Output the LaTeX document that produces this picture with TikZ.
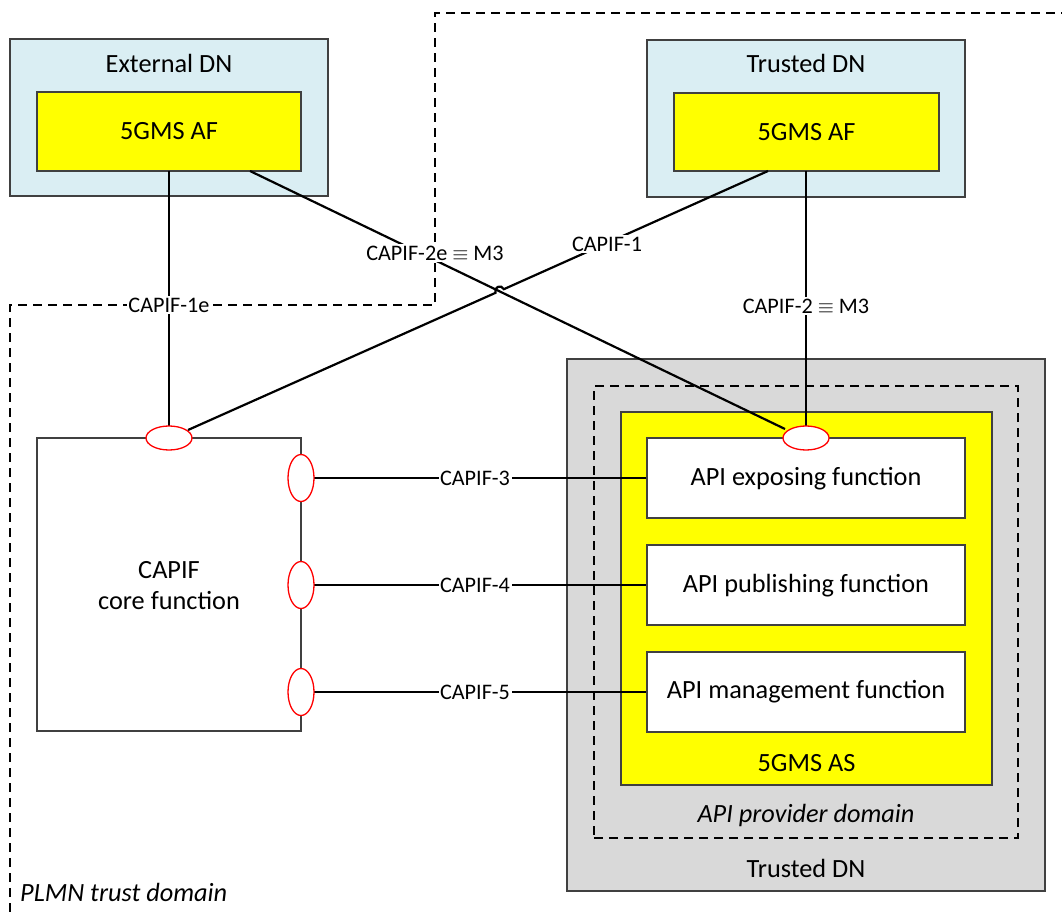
\documentclass[tikz,border=0pt]{standalone}
\usepackage{fontspec}
\setmainfont{Carlito}
\usetikzlibrary{shapes.geometric,calc}
\definecolor{dnblue}{HTML}{DAEEF3}
\definecolor{msyellow}{HTML}{FFFF00}
\definecolor{dngray}{HTML}{D9D9D9}
\definecolor{edge}{HTML}{404040}
\begin{document}
\begin{tikzpicture}[x=1pt,y=-1pt,
  box/.style={draw=edge,line width=1.2pt,rectangle,inner sep=0pt},
  maintxt/.style={font=\fontsize{26.3}{31}\selectfont,inner sep=0pt},
  lbl/.style={font=\fontsize{22.2}{26}\selectfont,fill=white,inner sep=1.5pt},
  conn/.style={line width=2.2pt,black},
  hport/.style={ellipse,draw=red,line width=1.3pt,fill=white,minimum width=46pt,minimum height=24pt,inner sep=0pt},
  vport/.style={ellipse,draw=red,line width=1.3pt,fill=white,minimum width=26pt,minimum height=47pt,inner sep=0pt},
  trustline/.style={line width=1.2pt,dash pattern=on 9pt off 6pt}]
\useasboundingbox (0,0) rectangle (1063,912);
% PLMN trust domain boundary
\coordinate (pa) at (10,912);
\coordinate (pb) at (10,305);
\coordinate (pc) at (435,305);
\coordinate (pd) at (435,13);
\coordinate (pe) at (1062,13);
\draw[trustline] (pa) -- (pb) -- (pc) -- (pd) -- (pe);
\node[maintxt,anchor=west,font=\fontsize{26.3}{31}\selectfont\itshape] (plmn) at (20,892) {PLMN trust domain};
% External DN
\node[box,fill=dnblue,minimum width=318pt,minimum height=157pt] (extdn) at (169,117.5) {};
\node[maintxt] (extdnlbl) at (169,63) {External DN};
\node[box,fill=msyellow,minimum width=264pt,minimum height=79pt] (extaf) at (169,131.5) {};
\node[maintxt] (extaflbl) at (169,131.5) {5GMS AF};
% Trusted DN top
\node[box,fill=dnblue,minimum width=318pt,minimum height=157pt] (tdn) at (806,118.5) {};
\node[maintxt] (tdnlbl) at (806,63) {Trusted DN};
\node[box,fill=msyellow,minimum width=265pt,minimum height=78pt] (taf) at (806.5,132) {};
\node[maintxt] (taflbl) at (806.5,132) {5GMS AF};
% Trusted DN bottom
\node[box,fill=dngray,minimum width=478pt,minimum height=532pt] (bdn) at (806,625) {};
\node[maintxt] (bdnlbl) at (806,868) {Trusted DN};
\node[draw=black,line width=1.2pt,dash pattern=on 9pt off 6pt,minimum width=424pt,minimum height=452pt,inner sep=0pt] (apd) at (806,612) {};
\node[maintxt,font=\fontsize{26.3}{31}\selectfont\itshape] (apdlbl) at (806,815) {API provider domain};
\node[box,fill=msyellow,minimum width=371pt,minimum height=373pt] (as) at (806.5,598.5) {};
\node[maintxt] (aslbl) at (806.5,763) {5GMS AS};
\node[box,fill=white,minimum width=318pt,minimum height=80pt] (expo) at (806,478) {};
\node[maintxt] (expolbl) at (806,479) {API exposing function};
\node[box,fill=white,minimum width=318pt,minimum height=80pt] (publ) at (806,585) {};
\node[maintxt] (publlbl) at (806,586) {API publishing function};
\node[box,fill=white,minimum width=318pt,minimum height=80pt] (mgmt) at (806,692) {};
\node[maintxt] (mgmtlbl) at (806,692) {API management function};
% CAPIF core
\node[box,fill=white,minimum width=264pt,minimum height=293pt] (core) at (169,584.5) {};
\node[maintxt,align=center,font=\fontsize{26.3}{31}\selectfont] (corelbl) at (169,586) {CAPIF\\core function};
% connector anchor points
\coordinate (extafb) at (169,171);
\coordinate (extafd) at (250,171);
\coordinate (tafd) at (768,171);
\coordinate (tafb) at (806,171);
% hop geometry on CAPIF-1
\coordinate (hopa) at (495.6,292.8);
\coordinate (hopb) at (503.8,289.2);
% connectors
\draw[conn] (extafb) -- (169,426);
\draw[conn] (tafb) -- (806,426);
\draw[conn] (extafd) -- (785,429);
\draw[conn] (tafd) -- (hopb) .. controls (501.4,283.7) and (493.2,287.3) .. (hopa) -- (188,430);
\draw[conn] (314,478) -- (expo.west);
\draw[conn] (314,585) -- (publ.west);
\draw[conn] (314,692) -- (mgmt.west);
% ports
\node[hport] (pcore) at (169,438) {};
\node[hport] (pexpo) at (806,438) {};
\node[vport] (p3) at (301,478) {};
\node[vport] (p4) at (301,585) {};
\node[vport] (p5) at (301,692) {};
% labels
\node[lbl] (l1e) at (169,305) {CAPIF-1e};
\node[lbl] (l2e) at (435,253) {CAPIF-2e $\equiv$ M3};
\node[lbl] (l1) at (607,244) {CAPIF-1};
\node[lbl] (l2) at (806,306) {CAPIF-2 $\equiv$ M3};
\node[lbl] (l3) at (475,478) {CAPIF-3};
\node[lbl] (l4) at (475,585) {CAPIF-4};
\node[lbl] (l5) at (475,692) {CAPIF-5};
\end{tikzpicture}
\end{document}
